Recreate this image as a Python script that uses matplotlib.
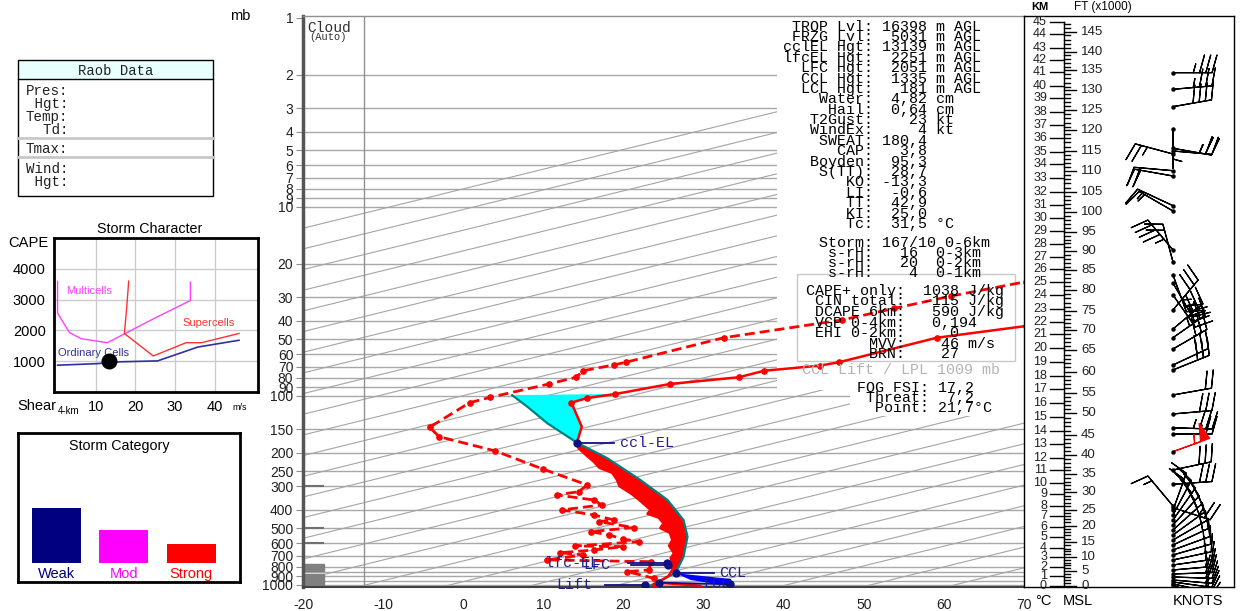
import numpy as np
import matplotlib
matplotlib.use("Agg")
import matplotlib.pyplot as plt
from matplotlib.patches import Rectangle
from matplotlib.transforms import Affine2D

W, H = 1243, 611
MONO = "Liberation Mono"
SANS = "Liberation Sans"
plt.rcParams["font.family"] = [SANS, "DejaVu Sans"]

# --- sounding (x = plotted deg C, p = mb) ---
temp_x = [75.0, 70.3, 59.1, 46.9, 44.5, 37.6, 34.4, 25.8, 19.0, 15.5, 13.5, 14.8, 14.2,
          14.4, 15.3, 16.3, 17.0, 18.6, 19.2, 19.5, 20.9, 21.8, 23.4, 23.0, 24.4, 25.0,
          24.6, 25.8, 26.1, 25.7, 26.3, 25.9, 26.1, 26.1, 25.6, 24.2, 29.6]
temp_p = [40.0, 42.6, 49.2, 66.3, 69.1, 73.5, 79.6, 86.4, 97.6, 102.5, 108.5, 145.3, 176.6,
          189, 205, 222.7, 240, 255, 278, 300, 327, 350, 401, 420, 440, 472,
          500, 530, 578, 620, 680, 720, 768, 833, 900, 972, 1009]

dewp_x = [75.0, 70.3, 60.9, 53.8, 47.3, 32.5, 20.3, 18.8, 15.0, 14.1, 10.7, 3.4, 0.8,
          -4.2, -3.0, 4.0, 10.0, 15.5, 14.4, 11.7, 16.3, 17.3, 12.3, 16.3, 18.8, 16.9,
          21.3, 15.9, 18.2, 20.0, 21.9, 14.0, 20.0, 16.3, 12.1, 15.0, 10.5, 23.4, 23.2,
          20.5, 23.8, 24.0]
dewp_p = [22.7, 24.8, 29.6, 34.4, 39.6, 49.2, 66.3, 68.5, 73.5, 79.6, 86.4, 101.6, 108.5,
          146.4, 164.2, 195.4, 244.2, 295.7, 320.8, 334, 355, 377, 401, 426, 453, 462,
          497, 522, 544, 572, 590, 622, 627, 653, 675, 694, 737, 753, 833,
          850, 922, 1000]

parcel_x = [6.1, 8.0, 10.5, 14.2, 18.0, 22.1, 25.5, 27.5, 28.0, 27.5, 26.7, 26.5, 25.5, 24.2, 22.9]
parcel_p = [99.0, 113.9, 139.4, 176.6, 213.6, 278, 355, 453, 555, 709, 833, 866, 904, 972, 1025]

cin_x = [26.5, 33.4, 33.8, 28.4]
cin_p = [866, 930, 1025, 941]

el_p, ccl_p = 176.6, 866

# labelled points: name, dot x, dot p, line start x, text x, ha
levels = [("ccl-EL", 14.2, 176.6, 18.8, 19.6, "left"),
          ("lfc-EL", 25.4, 768, 20.6, 16.9, "right"),
          ("LFC", 25.6, 788, 20.9, 15.0, "left"),
          ("CCL", 26.5, 866, 31.3, 31.9, "left"),
          ("Lift", 22.75, 1000, 17.75, 16.1, "right")]
lcl_x, lcl_p = 33.3, 991
lift2_x, lift2_p = 24.4, 972

isobars = [2, 3, 4, 5, 6, 7, 8, 9, 10, 20, 30, 40, 50, 60, 70, 80, 90, 100, 150, 200,
           250, 300, 400, 500, 600, 700, 800, 850, 900, 950, 1000]
p_ticks = [1, 2, 3, 4, 5, 6, 7, 8, 9, 10, 20, 30, 40, 50, 60, 70, 80, 90, 100, 150, 200,
           250, 300, 400, 500, 600, 700, 800, 900, 1000]
t_ticks = [-20, -10, 0, 10, 20, 30, 40, 50, 60, 70]

# height of each km mark (0..45 km) in mb
km_p = [1012, 896.5, 800.4, 713.7, 639.4, 559.3, 491.4, 431.4, 380.5, 330.0, 287.5,
        246.4, 212.1, 180.2, 153.2, 128.7, 109.3, 92.17, 78.08, 65.84, 55.52, 47.16,
        40.75, 34.77, 29.22, 25.03, 21.36, 18.32, 15.70, 13.40, 11.47, 9.759, 8.299,
        7.050, 5.944, 5.098, 4.300, 3.683, 3.131, 2.660, 2.282, 1.931, 1.668, 1.436,
        1.215, 1.046]

# winds: level (mb), direction (deg), speed (kt)
wind_p = [1.947, 2.384, 2.946, 3.880, 4.891, 5.054, 5.243, 6.427, 6.855, 9.843, 10.50,
          16.89, 19.54, 22.90, 25.25, 29.22, 35.07, 44.21, 49.15, 56.41, 68.55, 72.85,
          98.78, 124.5, 147.2, 158.9, 197.1, 246.4, 293.2, 381.9, 390.0, 401.1, 426.1,
          453.1, 481.5, 511.7, 543.8, 578.0, 614.3, 652.8, 693.8, 737.4, 783.6, 832.9,
          874.6, 907.2, 941.0, 964.0, 987.9, 1006]
wind_dir = [90, 85, 80, 180, 100, 95, 285, 275, 280, 295, 300,
            320, 345, 160, 150, 145, 40, 50, 55, 60, 65, 68,
            80, 85, 92, 90, 70, 78, 86, 320, 108, 20, 28,
            35, 42, 48, 54, 60, 65, 70, 74, 78, 82, 85,
            88, 92, 95, 98, 102, 108]
wind_spd = [35, 35, 40, 5, 25, 25, 25, 20, 20, 15, 15,
            45, 20, 25, 25, 30, 30, 30, 35, 30, 30, 30,
            20, 30, 35, 25, 55, 30, 30, 15, 25, 20, 20,
            20, 20, 20, 20, 15, 15, 15, 15, 15, 15, 15,
            20, 20, 20, 15, 15, 10]
storm_level_p = 197.1

# indices panel
top_labels = ["TROP Lvl:", "FRZG Lvl:", "cclEL Hgt:", "lfcEL Hgt:", "LFC Hgt:", "CCL Hgt:",
              "LCL Hgt:", "Water:", "Hail:", "T2Gust:", "WindEx:", "SWEAT:", "CAP:",
              "Boyden:", "S(TT):", "KO:", "LI:", "TT:", "KI:", "Tc:"]
top_values = ["16398", "5031", "13139", "2251", "2051", "1335", "181", "4,82", "0,64", "23",
              "4", "180,4", "3,8", "95,3", "28,7", "-13,3", "-0,6", "42,9", "25,0", "31,5"]
top_units = ["m AGL"] * 7 + ["cm", "cm", "kt", "kt"] + [""] * 8 + ["°C"]
storm_labels = ["Storm:", "s-rH:", "s-rH:", "s-rH:"]
storm_values = ["167/10 0-6km", "  16  0-3km", "  20  0-2km", "   4  0-1km"]
cape_labels = ["CAPE+ only:", "CIN total:", "DCAPE 6km:", "VGP 0-4km:", "EHI 0-2km:",
               "MVV:", "BRN:"]
cape_values = ["1038 J/kg", "-115 J/kg", " 590 J/kg", " 0,194", "   0", "  46 m/s", "  27"]
fog_labels = ["FOG FSI:", "Threat:", "Point:"]
fog_values = ["17,2", " 7,2", "21,7°C"]

# storm character diagram
multi_x = [0.3, 0.3, 3.3, 6.3, 12.9, 24.3, 33.9, 33.9]
multi_y = [3590, 2560, 1930, 1730, 1600, 2360, 2970, 3570]
super_x = [18.3, 17.7, 17.2, 24.5, 32.8, 36.7, 46.2]
super_y = [3600, 2600, 1900, 1170, 1600, 1600, 1900]
ord_x = [0.3, 10.2, 16.2, 25.6, 35.8, 46.2]
ord_y = [870, 920, 980, 1010, 1460, 1680]
shear_now, cape_now = 13.4, 1010

cat_names = ["Weak", "Mod", "Strong"]
cat_values = [55, 33, 19]
cat_colors = ["#000080", "#ff00ff", "#ff0000"]

fig = plt.figure(figsize=(W / 100, H / 100), dpi=100)
tpx = Affine2D().scale(1 / W, -1 / H).translate(0, 1) + fig.transFigure


def box(x0, y0, x1, y1):
    return fig.add_axes([x0 / W, 1 - y1 / H, (x1 - x0) / W, (y1 - y0) / H])


# ---------------- main sounding ----------------
ax = box(303, 16, 1024, 587)
ax.set_yscale("log")
ax.set_xlim(-20, 70)
ax.set_ylim(1025, 0.976)
ax.hlines(isobars, -20, 70, color="#a8a8a8", lw=1, zorder=1)
lp = np.array([1100, 0.5])
for t in np.arange(-201.2, 80, 10.5):
    ax.plot(t + 96 * np.log10(1000 / lp), lp, color="#a4a4a4", lw=0.8, zorder=1)
ax.axvline(-12.4, color="#909090", lw=1, zorder=1)
ax.add_patch(Rectangle((-20, 774), 2.6, 70, color="#808080", zorder=1.2))
ax.add_patch(Rectangle((-20, 875), 2.6, 200, color="#808080", zorder=1.2))
ax.hlines([300, 500, 600], -20, -17.4, color="#707070", lw=1.5, zorder=1.2)

ax.add_patch(Rectangle((777, 17), 247, 373, transform=tpx, fc="white", ec="none", zorder=1.5))
ax.add_patch(Rectangle((850, 389), 174, 27, transform=tpx, fc="white", ec="none", zorder=1.5))
ax.add_patch(Rectangle((797, 274), 218, 87, transform=tpx, fc="white", ec="#c8c8c8",
                       lw=1, zorder=1.6))

tx, tp = np.array(temp_x), np.array(temp_p)
px_, pp = np.array(parcel_x), np.array(parcel_p)
up_par = pp <= el_p
up_env = (tp <= el_p) & (tp >= 97)
ax.fill(np.r_[px_[up_par], tx[up_env][::-1]], np.r_[pp[up_par], tp[up_env][::-1]],
        color="#00ffff", lw=0, zorder=2)
lo_par = (pp >= el_p) & (pp <= ccl_p)
lo_env = (tp >= el_p) & (tp <= ccl_p)
ax.fill(np.r_[px_[lo_par], tx[lo_env][::-1]], np.r_[pp[lo_par], tp[lo_env][::-1]],
        color="#ff0000", lw=0, zorder=2)
ax.fill(cin_x, cin_p, color="#0000ff", lw=0, zorder=2)

ax.plot(parcel_x, parcel_p, color="#008080", lw=1.6, zorder=3)
mk = [i for i, p in enumerate(temp_p) if p < 110]
ax.plot(temp_x, temp_p, color="#ff0000", lw=1.8, marker="o", ms=3.8, markevery=mk, zorder=3)
ax.plot(dewp_x, dewp_p, color="#ff0000", lw=2, dashes=(3.6, 1.8), marker="o", ms=3.8, zorder=3)

navy = "#101080"
for name, x, p, x0, xt, ha in levels:
    ax.plot([x0, x], [p, p], color=navy, lw=1.3, zorder=4)
    ax.plot(x, p, "o", color=navy, ms=5, zorder=5)
    ax.text(xt, p, name, family=MONO, size=10.8, color="#20208a", ha=ha, va="center", zorder=5)
ax.plot([lift2_x, lcl_x], [lift2_p, lcl_p], color=navy, lw=1.3, zorder=4)
ax.plot([lift2_x, lcl_x], [lift2_p, lcl_p], "o", color=navy, ms=5, zorder=5)
ax.text(30.0, lcl_p, "LCL", family=MONO, size=10.8, color="#20208a", va="center", zorder=5)

ax.set_yticks(p_ticks, [str(p) for p in p_ticks])
ax.yaxis.set_minor_locator(matplotlib.ticker.NullLocator())
ax.set_xticks(t_ticks, [str(t) for t in t_ticks])
ax.tick_params(axis="y", length=5, color="#909090", labelsize=10, pad=2, labelcolor="#202020")
ax.tick_params(axis="x", length=0, labelsize=10, pad=8, labelcolor="#202020")
ax.spines["left"].set(color="#555555", lw=2.5)
ax.spines["bottom"].set(color="#404040", lw=1.5)
ax.spines["top"].set(color="#909090", lw=1)
ax.spines["right"].set_visible(False)

# ---------------- height scale and winds ----------------
ar = box(1024, 16, 1234, 587)
ar.set_yscale("log")
ar.set_ylim(1025, 0.976)
ar.set_xlim(0, 210)
ar.set_xticks([])
ar.set_yticks([])
ar.yaxis.set_minor_locator(matplotlib.ticker.NullLocator())
for s in ar.spines.values():
    s.set(color="black", lw=1)
ar.plot([40, 40], [km_p[0], km_p[-1]], color="black", lw=1)
for k, p in enumerate(km_p):
    ar.plot([26, 40], [p, p], color="black", lw=1)
    ar.text(23, p, str(k), ha="right", va="center", size=9, color="#202020")
lkm = np.log10(km_p)
for kft in range(0, 148):
    p = 10 ** np.interp(kft * 0.3048, np.arange(len(km_p)), lkm)
    major = kft % 5 == 0
    ar.plot([40, 52 if major else 46], [p, p], color="black", lw=1)
    if major:
        ar.text(57, p, str(kft), ha="left", va="center", size=9.5, color="#202020")

wd = np.radians(wind_dir)
u = -np.array(wind_spd) * np.sin(wd)
v = -np.array(wind_spd) * np.cos(wd)
cols = ["#ff0000" if p == storm_level_p else "black" for p in wind_p]
xb = np.full(len(wind_p), 149.0)
ar.barbs(xb, wind_p, u, v, color=cols, length=7.5, lw=0.9, flip_barb=True,
         sizes=dict(spacing=0.16, height=0.45, width=0.25), zorder=3)
ar.plot(xb, wind_p, "o", color="black", ms=2.2, zorder=4)

# ---------------- storm character ----------------
ac = box(54, 238, 258, 392)
ac.set_xlim(-0.6, 51.0)
ac.set_ylim(0, 5000)
ac.set_xticks([10, 20, 30, 40])
ac.set_yticks([1000, 2000, 3000, 4000])
ac.grid(True, color="#cccccc", lw=1)
ac.set_axisbelow(True)
ac.tick_params(length=0, labelsize=10.5, pad=6)
for s in ac.spines.values():
    s.set(color="black", lw=2)
ac.plot(multi_x, multi_y, color="#ff40ff", lw=1)
ac.plot(super_x, super_y, color="#ff3030", lw=1)
ac.plot(ord_x, ord_y, color="#3030a0", lw=1.2)
ac.text(2.5, 3265, "Multicells", color="#ff40ff", size=8, va="center")
ac.text(31.8, 2250, "Supercells", color="#ff3030", size=8, va="center")
ac.text(0.3, 1250, "Ordinary Cells", color="#3030a0", size=8, va="center")
ac.scatter([shear_now], [cape_now], s=110, color="black", zorder=5)

# ---------------- storm category ----------------
ab = box(18, 433, 240, 582)
ab.bar(range(3), cat_values, width=0.726, color=cat_colors)
ab.set_xlim(-0.57, 2.72)
ab.set_ylim(-19, 130)
ab.set_xticks([])
ab.set_yticks([])
for s in ab.spines.values():
    s.set(color="black", lw=2)
for i, (n, c) in enumerate(zip(cat_names, cat_colors)):
    ab.text(i, -11, n, color=c, size=10.5, ha="center", va="center")

# ---------------- overlay texts in pixels ----------------
ov = fig.add_axes([0, 0, 1, 1], zorder=10)
ov.set_xlim(0, W)
ov.set_ylim(H, 0)
ov.axis("off")
ov.patch.set_visible(False)

def mono(x, y, s, size=10.8, color="black"):
    return ov.text(x, y, s, family=MONO, size=size, color=color, va="center", ha="left")

for i, (lab, val, unit) in enumerate(zip(top_labels, top_values, top_units)):
    mono(782.7, 26.7 + i * 10.38, f"{lab:>10} {val:>5} {unit}")
for i, (lab, val) in enumerate(zip(storm_labels, storm_values)):
    mono(782.7, 242.7 + i * 10.2, f"{lab:>10} {val}")
for i, (lab, val) in enumerate(zip(cape_labels, cape_values)):
    mono(806, 291 + i * 10.5, f"{lab:>11}  {val}")
mono(801.7, 369.5, "CCL Lift / LPL 1009 mb", color="#b4b4b4")
for i, (lab, val) in enumerate(zip(fog_labels, fog_values)):
    mono(857.3, 388.3 + i * 10, f"{lab:>8} {val}")

cloud = mono(307, 28, "Cloud", size=10.5, color="#303030")
cloud.set_clip_path(Rectangle((300, 22), 80, 20, transform=ov.transData))
mono(309, 37, "(Auto)", size=7.5, color="#303030")

# raob data box
ov.add_patch(Rectangle((18, 60), 195, 19, fc="#e8ffff", ec="none"))
ov.add_patch(Rectangle((18, 60), 195, 136, fc="none", ec="black", lw=1))
ov.plot([18, 213], [79, 79], color="black", lw=1)
ov.plot([18, 213], [138, 138], color="#c8c8c8", lw=2)
ov.plot([18, 213], [157, 157], color="#c8c8c8", lw=2)
ov.text(116, 71, "Raob Data", family=MONO, size=10, ha="center", va="center", color="#202020")
for y, s in [(90.7, "Pres:"), (104, " Hgt:"), (117.3, "Temp:"), (130, "  Td:"),
             (149, "Tmax:"), (169.3, "Wind:"), (182.3, " Hgt:")]:
    mono(26, y, s, size=10.2, color="#202020")

ov.text(240, 16, "mb", size=10.5, ha="center", va="center")
ov.text(150, 229, "Storm Character", size=10.3, ha="center", va="center")
ov.text(8, 243, "CAPE", size=10.6, ha="left", va="center")
ov.text(17, 406, "Shear", size=10.5, ha="left", va="center")
ov.text(58, 411, "4-km", size=7, ha="left", va="center")
ov.text(232, 408, "m/s", size=6.5, ha="left", va="center")
ov.text(119, 446, "Storm Category", size=10.3, ha="center", va="center")
ov.text(1043, 601, "°C", size=10.5, ha="center", va="center")
ov.text(1078, 601, "MSL", size=10.5, ha="center", va="center")
ov.text(1198, 601, "KNOTS", size=10.5, ha="center", va="center")
ov.text(1040, 7, "KM", size=8, ha="center", va="center", weight="bold")
ov.text(1103, 7, "FT (x1000)", size=8.5, ha="center", va="center")

fig.savefig("out.png", dpi=100)
